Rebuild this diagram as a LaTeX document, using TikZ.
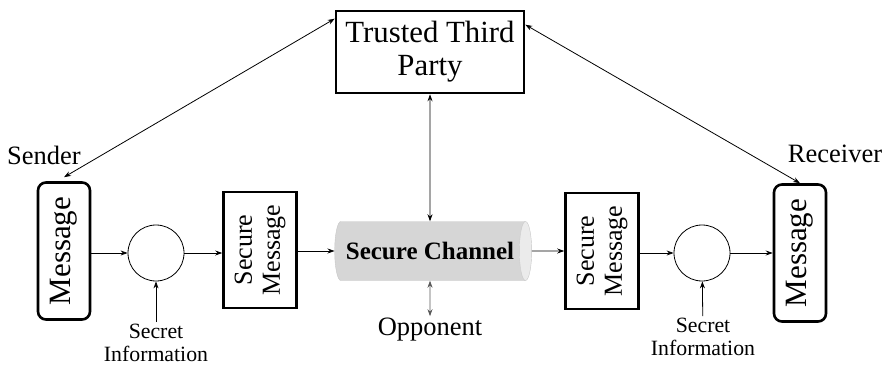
\documentclass[tikz,border=0pt]{standalone}
\usepackage{fontspec}
\setmainfont{Liberation Serif}
\usetikzlibrary{arrows.meta, shapes.geometric, positioning}

\newcommand{\fs}[2]{%
    % #1 : size
    % #2 : baseline skip
    \fontsize{#1}{#2}\selectfont
}

\begin{document}
\begin{tikzpicture}[
        x=1pt, y=1pt,
        >={Stealth[length=7pt, width=5pt]},
        link/.style={line width=0.8pt},
        box/.style={draw, line width=2.6pt, align=center, inner sep=0pt},
        msgbox/.style={box, rotate=90, rounded corners=8pt,
                minimum width=137, minimum height=52, font=\fs{31}{34}},
        securebox/.style={box, rotate=90,
                minimum width=116, minimum height=73, font=\fs{26}{28}},
        mixer/.style={circle, draw, line width=0.8pt, minimum size=56, inner sep=0pt},
        secret/.style={align=center, inner sep=2pt, font=\fs{21.8}{22.5}},
        label/.style={inner sep=2pt, font=\fs{26.5}{28}},
    ]

    \useasboundingbox (0,0) rectangle (888,-366);

    \def\ymain{-253}

    % trusted third party on top
    \node[box, minimum width=188, minimum height=82, font=\fs{30.8}{33}]
        (ttp) at (430,-52) {Trusted Third\\Party};

    % the channel in the middle (cylinder: height runs along its axis)
    \node[cylinder, shape border rotate=0, aspect=0.7,
          draw=black!22, cylinder uses custom fill,
          cylinder body fill=black!16, cylinder end fill=black!8,
          minimum height=197, minimum width=59, inner sep=0pt,
          font=\fs{25}{27}\bfseries]
        (chan) at (430,-251) {Secure Channel};
    \node[label] (opp) at (430,-330) {Opponent};

    % sender side
    \node[msgbox] (msgL) at (64,-251) {Message};
    \node[mixer] (encL) at (156,\ymain) {};
    \node[securebox] (secL) at (260,-250) {Secure\\Message};
    \node[secret] (infoL) at (156,-343) {Secret\\Information};
    \node[label] (sender) at (44,-155) {Sender};

    % receiver side
    \node[securebox] (secR) at (602,-251) {Secure\\Message};
    \node[mixer] (decR) at (702,\ymain) {};
    \node[msgbox] (msgR) at (800,-253) {Message};
    \node[secret] (infoR) at (703,-337) {Secret\\Information};
    \node[label] (receiver) at (835,-154) {Receiver};

    % message flow (rotated boxes: north is the left side, south the right)
    \draw[link, ->] (msgL.south |- encL) -- (encL);
    \draw[link, ->] (encL) -- (secL.north |- encL);
    \draw[link, ->] (secL.south |- chan) -- (chan);
    \draw[link, ->] (chan) -- (secR.north |- chan);
    \draw[link, ->] (secR.south |- decR) -- (decR);
    \draw[link, ->] (decR) -- (msgR.north |- decR);
    \draw[link, ->] (infoL) -- (encL);
    \draw[link, ->] (infoR) -- (decR);

    % links with the third party (east is the top)
    \draw[link, <->] ([yshift=4pt]msgL.east) -- ([yshift=-9pt]ttp.north west);
    \draw[link, <->] ([yshift=-15pt]ttp.north east) -- (msgR.east);
    \draw[link, <->] (ttp) -- (chan);
    \draw[link, <->, black!65] (chan) -- (opp);

\end{tikzpicture}
\end{document}
